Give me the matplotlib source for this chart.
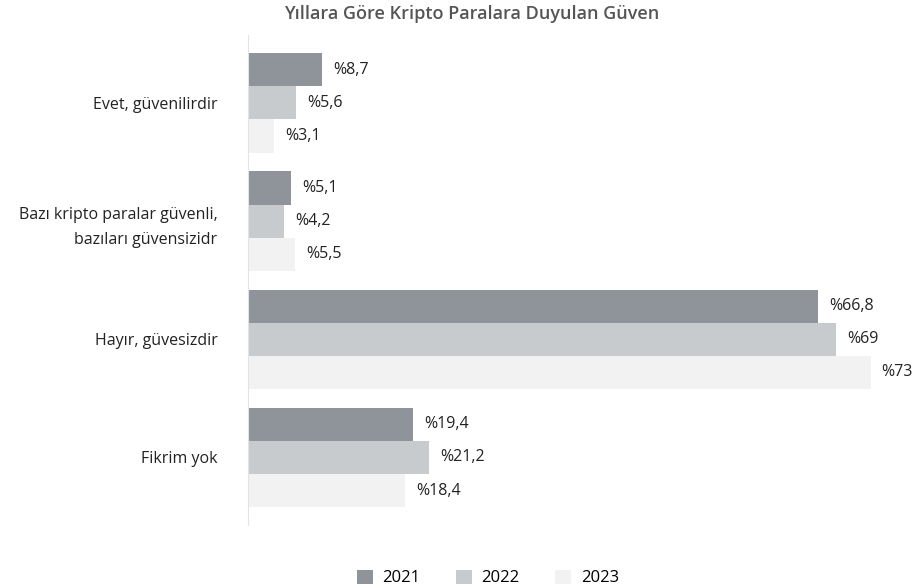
import numpy as np
import matplotlib.pyplot as plt
from matplotlib.patches import Patch

plt.rcParams['font.family'] = ['Open Sans', 'DejaVu Sans']

categories = ['Evet, güvenilirdir',
              'Bazı kripto paralar güvenli,\nbazıları güvensizidr',
              'Hayır, güvesizdir',
              'Fikrim yok']
years = ['2021', '2022', '2023']
v2021 = [8.7, 5.1, 66.8, 19.4]
v2022 = [5.6, 4.2, 69, 21.2]
v2023 = [3.1, 5.5, 73, 18.4]
colors = ['#8f939a', '#c8cbce', '#f2f2f2']


def fmt(v):
    s = ('%.1f' % v).rstrip('0').rstrip('.')
    return '%' + s.replace('.', ',')


fig = plt.figure(figsize=(9.15, 5.88), dpi=100)
ax = fig.add_axes([0.271, 0.107, 0.727, 0.833])

y = np.arange(len(categories))
h = 0.28
for i, (vals, c) in enumerate(zip([v2021, v2022, v2023], colors)):
    bars = ax.barh(y + (i - 1) * h, vals, height=h, color=c)
    for b, v in zip(bars, vals):
        ax.annotate(fmt(v), (b.get_width(), b.get_y() + b.get_height() / 2),
                    xytext=(8, 0), textcoords='offset points',
                    va='center', ha='left', fontsize=11.5, color='#222222')

ax.set_xlim(0, 78)
ax.set_ylim(3.572, -0.572)
ax.set_yticks(y)
ax.set_yticklabels(categories, fontsize=11.5, color='#222222', linespacing=1.75)
ax.tick_params(axis='y', length=0, pad=22)
ax.set_xticks([])
for s in ['top', 'right', 'bottom']:
    ax.spines[s].set_visible(False)
ax.spines['left'].set_color('#e3e3e3')

fig.text(0.516, 0.977, 'Yıllara Göre Kripto Paralara Duyulan Güven',
         ha='center', va='center', fontsize=13, fontweight='semibold', color='#555555')

handles = [Patch(facecolor=c, label=yr) for c, yr in zip(colors, years)]
fig.legend(handles=handles, loc='center', bbox_to_anchor=(0.533, 0.0170), ncol=3,
           frameon=False, fontsize=12, handlelength=0.96, handleheight=0.96,
           columnspacing=2.1, handletextpad=0.6)

fig.savefig('out.png', dpi=100)
